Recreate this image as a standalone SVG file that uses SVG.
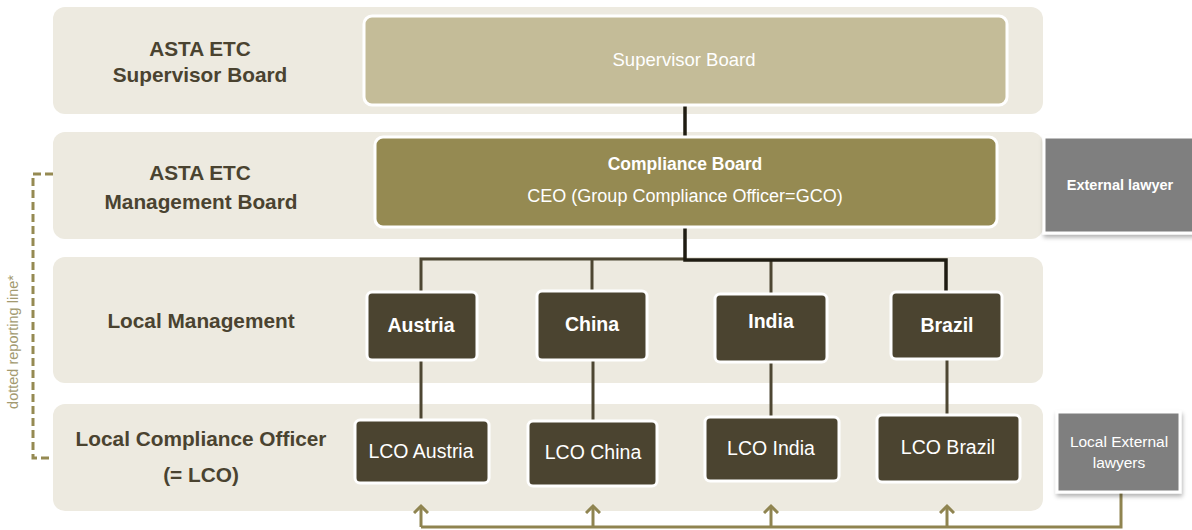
<svg xmlns="http://www.w3.org/2000/svg" width="1192" height="530" viewBox="0 0 1192 530">
  <style>
    .band { fill: #EDEAE0; }
    .lbl { font-family: "Liberation Sans", Arial, sans-serif; font-weight: bold; font-size: 20.8px; fill: #4A4330; text-anchor: middle; }
    .box { stroke: #FFFFFF; stroke-width: 3; }
    .sup { fill: #C4BC98; }
    .cb { fill: #958A52; }
    .dark { fill: #4B4430; }
    .grey { fill: #7F7F7F; }
    .wt { font-family: "Liberation Sans", Arial, sans-serif; fill: #FFFFFF; text-anchor: middle; }
    .ctry { font-size: 19.5px; font-weight: bold; }
    .lco { font-size: 19.5px; }
    .link { fill: none; stroke: #4D4632; stroke-width: 3; }
    .link-dk { fill: none; stroke: #1F1C12; stroke-width: 3.5; }
    .olive { fill: none; stroke: #8F8450; stroke-width: 3; }
  </style>
  <defs>
    <marker id="chev" viewBox="-8 -8 16 16" markerWidth="16" markerHeight="16" markerUnits="userSpaceOnUse" orient="auto">
      <path d="M-7,-7 L0,0 L-7,7" fill="none" stroke="#8F8450" stroke-width="3"/>
    </marker>
    <filter id="shadow" x="-10%" y="-10%" width="125%" height="130%">
      <feDropShadow dx="1" dy="3" stdDeviation="2" flood-color="#000000" flood-opacity="0.3"/>
    </filter>
  </defs>

  <!-- background bands -->
  <g id="bands">
    <rect class="band" x="53" y="7" width="990" height="107" rx="12"/>
    <rect class="band" x="53" y="132" width="990" height="107" rx="12"/>
    <rect class="band" x="53" y="257" width="990" height="126" rx="12"/>
    <rect class="band" x="53" y="404" width="990" height="107" rx="12"/>
  </g>

  <!-- row labels -->
  <g id="row-labels">
    <text class="lbl" x="200" y="56">ASTA ETC</text>
    <text class="lbl" x="200" y="82">Supervisor Board</text>
    <text class="lbl" x="200" y="180">ASTA ETC</text>
    <text class="lbl" x="201" y="209">Management Board</text>
    <text class="lbl" x="201" y="328">Local Management</text>
    <text class="lbl" x="201" y="446">Local Compliance Officer</text>
    <text class="lbl" x="201" y="482">(= LCO)</text>
  </g>

  <!-- connectors -->
  <g id="connectors">
    <line class="link-dk" x1="685" y1="105" x2="685" y2="137"/>
    <polyline class="link" points="421,292 421,259 686,259"/>
    <line class="link" x1="592" y1="259" x2="592" y2="291"/>
    <line class="link" x1="771" y1="259" x2="771" y2="294"/>
    <polyline class="link-dk" points="685,227 685,260 946,260 946,292"/>
    <line class="link" x1="421" y1="360" x2="421" y2="420"/>
    <line class="link" x1="593" y1="360" x2="593" y2="421"/>
    <line class="link" x1="771" y1="362" x2="771" y2="417"/>
    <line class="link" x1="947" y1="359" x2="947" y2="415"/>
    <!-- dotted reporting line -->
    <polyline points="53,174 33,174 33,458 53,458" fill="none" stroke="#958A52" stroke-width="3" stroke-dasharray="8,4"/>
    <!-- support from local external lawyers -->
    <polyline class="olive" points="1121,493 1121,527 421,527"/>
    <line class="olive" x1="421" y1="527" x2="421" y2="506" marker-end="url(#chev)"/>
    <line class="olive" x1="593" y1="527" x2="593" y2="506" marker-end="url(#chev)"/>
    <line class="olive" x1="771" y1="527" x2="771" y2="506" marker-end="url(#chev)"/>
    <line class="olive" x1="947" y1="527" x2="947" y2="506" marker-end="url(#chev)"/>
    <text x="18" y="342" transform="rotate(-90 18 342)" font-family="Liberation Sans, Arial, sans-serif" font-size="14.5" fill="#A39A70" text-anchor="middle">dotted reporting line*</text>
  </g>

  <g id="supervisor-board">
    <rect class="box sup" x="364" y="16" width="643" height="89" rx="8"/>
    <text class="wt" x="684" y="66" font-size="18.5" fill="#F7F4EA">Supervisor Board</text>
  </g>

  <g id="compliance-board">
    <rect class="box cb" x="375" y="137" width="622" height="90" rx="8"/>
    <text class="wt" x="685" y="170" font-size="17.5" font-weight="bold">Compliance Board</text>
    <text class="wt" x="685" y="202" font-size="18">CEO (Group Compliance Officer=GCO)</text>
  </g>

  <g id="external-lawyer">
    <rect class="box grey" x="1044" y="137" width="150" height="96" filter="url(#shadow)"/>
    <text class="wt" x="1120" y="190" font-size="14.5" font-weight="bold">External lawyer</text>
  </g>

  <g id="austria">
    <rect class="box dark" x="367" y="292" width="110" height="68" rx="5"/>
    <text class="wt ctry" x="421" y="332">Austria</text>
  </g>
  <g id="china">
    <rect class="box dark" x="537" y="291" width="110" height="69" rx="5"/>
    <text class="wt ctry" x="592" y="331">China</text>
  </g>
  <g id="india">
    <rect class="box dark" x="715" y="294" width="112" height="68" rx="5"/>
    <text class="wt ctry" x="771" y="328">India</text>
  </g>
  <g id="brazil">
    <rect class="box dark" x="891" y="292" width="111" height="67" rx="5"/>
    <text class="wt ctry" x="947" y="332">Brazil</text>
  </g>

  <g id="lco-austria">
    <rect class="box dark" x="355" y="420" width="134" height="63" rx="5"/>
    <text class="wt lco" x="421" y="458">LCO Austria</text>
  </g>
  <g id="lco-china">
    <rect class="box dark" x="528" y="421" width="129" height="65" rx="5"/>
    <text class="wt lco" x="593" y="459">LCO China</text>
  </g>
  <g id="lco-india">
    <rect class="box dark" x="705" y="417" width="134" height="64" rx="5"/>
    <text class="wt lco" x="771" y="455">LCO India</text>
  </g>
  <g id="lco-brazil">
    <rect class="box dark" x="877" y="415" width="143" height="67" rx="5"/>
    <text class="wt lco" x="948" y="454">LCO Brazil</text>
  </g>

  <g id="local-external-lawyers">
    <rect class="box grey" x="1057" y="412" width="123" height="80" filter="url(#shadow)"/>
    <text class="wt" x="1119" y="447" font-size="15.5" fill="#F2EFE4">Local External</text>
    <text class="wt" x="1119" y="468" font-size="15.5" fill="#F2EFE4">lawyers</text>
  </g>
</svg>
